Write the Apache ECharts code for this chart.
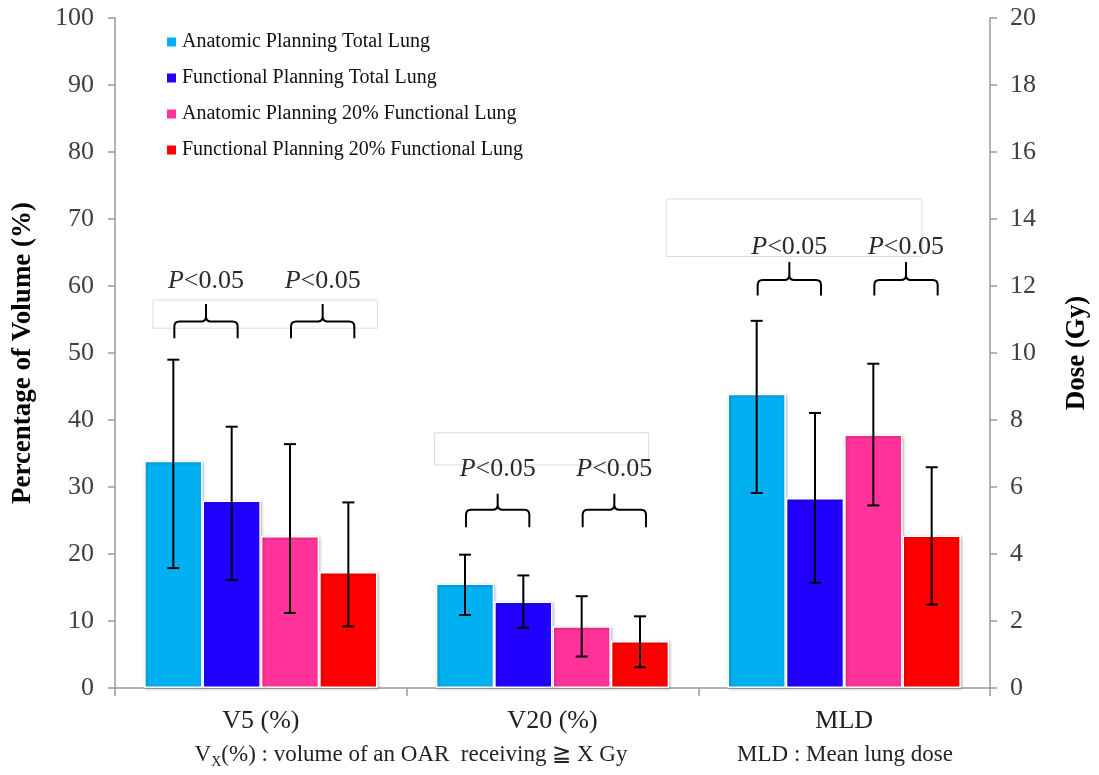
<!DOCTYPE html>
<html>
<head>
<meta charset="utf-8">
<script src="https://cdn.jsdelivr.net/npm/echarts@6.0.0/dist/echarts.min.js"></script>
<style>
html,body{margin:0;padding:0;background:#fff;}
#chart{width:1099px;height:775px;}
</style>
</head>
<body>
<div id="chart"></div>
<script>
// ---------------- DATA ----------------
const categories = ['V5 (%)', 'V20 (%)', 'MLD'];
const seriesNames = [
  'Anatomic Planning Total Lung',
  'Functional Planning Total Lung',
  'Anatomic Planning 20% Functional Lung',
  'Functional Planning 20% Functional Lung'
];
// V5 (% volume, left axis), one value per series
const v5Mean = [33.9, 28.0, 22.7, 17.3];
const v5Low  = [17.9, 16.1, 11.2, 9.2];
const v5High = [49.0, 39.0, 36.4, 27.7];
// V20 (% volume, left axis)
const v20Mean = [15.6, 12.9, 9.2, 7.0];
const v20Low  = [10.9, 9.0, 4.7, 3.1];
const v20High = [19.9, 16.8, 13.7, 10.7];
// MLD (Gy, right axis)
const mldMean = [8.78, 5.67, 7.57, 4.55];
const mldLow  = [5.82, 3.14, 5.45, 2.49];
const mldHigh = [10.96, 8.21, 9.68, 6.59];

// significance annotations (left-axis units)
const sigLabel = 'P<0.05';
const braceCat   = [0, 0, 1, 1, 2, 2];
const braceFirst = [0, 2, 0, 2, 0, 2];
const braceTip   = [57.3, 57.3, 29.0, 29.0, 63.6, 63.6];
const braceMid   = [54.7, 54.7, 26.6, 26.6, 60.9, 60.9];
const braceEnd   = [52.2, 52.2, 24.0, 24.0, 58.6, 58.6];
const sigTextY   = [60.7, 60.7, 32.6, 32.6, 65.8, 65.8];
// faint text-box outlines around annotations
const boxCat    = [0, 1, 2];
const boxTop    = [57.9, 38.1, 73.0];
const boxBottom = [53.7, 33.3, 64.4];
const boxLeftBand  = [-0.37, -0.404, -0.61];
const boxRightBand = [0.40, 0.329, 0.267];

// ---------------- STYLE ----------------
const colors = ['#00B0F0', '#2200FF', '#FF3399', '#FF0000'];
const FONT = '"Liberation Serif", "Times New Roman", serif';
const GAP = 0.2; // barCategoryGap

function barX(api, cat, s) {
  const band = api.size([1, 0])[0];
  const group = band * (1 - GAP);
  const bw = group / 4;
  const c = api.coord([cat, 0])[0];
  return { x: c - group / 2 + (s + 0.5) * bw, bw: bw, c: c, band: band };
}

function renderErr(params, api) {
  const cat = api.value(0), s = api.value(1);
  const p = barX(api, cat, s);
  const yl = api.coord([cat, api.value(2)])[1];
  const yh = api.coord([cat, api.value(3)])[1];
  const cap = 6;
  const st = { stroke: '#000', lineWidth: 2 };
  return {
    type: 'group',
    children: [
      { type: 'line', shape: { x1: p.x, y1: yl, x2: p.x, y2: yh }, style: st },
      { type: 'line', shape: { x1: p.x - cap, y1: yh, x2: p.x + cap, y2: yh }, style: st },
      { type: 'line', shape: { x1: p.x - cap, y1: yl, x2: p.x + cap, y2: yl }, style: st }
    ]
  };
}

function renderBrace(params, api) {
  const cat = api.value(0), s = api.value(1);
  const a = barX(api, cat, s);
  const b = barX(api, cat, s + 1);
  const x1 = a.x + 1, x2 = b.x + 6, xm = (x1 + x2) / 2;
  const yT = api.coord([cat, api.value(2)])[1];
  const yH = api.coord([cat, api.value(3)])[1];
  const yE = api.coord([cat, api.value(4)])[1];
  const yt = api.coord([cat, api.value(5)])[1];
  const r = 5;
  const d = 'M' + x1 + ',' + yE + ' L' + x1 + ',' + (yH + r) +
    ' Q' + x1 + ',' + yH + ' ' + (x1 + r) + ',' + yH +
    ' L' + (xm - r) + ',' + yH +
    ' Q' + xm + ',' + yH + ' ' + xm + ',' + (yH - r) +
    ' L' + xm + ',' + yT +
    ' M' + xm + ',' + (yH - r) +
    ' Q' + xm + ',' + yH + ' ' + (xm + r) + ',' + yH +
    ' L' + (x2 - r) + ',' + yH +
    ' Q' + x2 + ',' + yH + ' ' + x2 + ',' + (yH + r) +
    ' L' + x2 + ',' + yE;
  return {
    type: 'group',
    children: [
      { type: 'path', shape: { pathData: d }, style: { fill: null, stroke: '#000', lineWidth: 2 } },
      {
        type: 'text', x: xm, y: yt,
        style: {
          text: '{i|' + sigLabel.charAt(0) + '}{n|' + sigLabel.slice(1) + '}',
          align: 'center', verticalAlign: 'middle',
          rich: {
            i: { fontStyle: 'italic', fontSize: 26, fontFamily: FONT, fill: '#2a2a2a' },
            n: { fontSize: 26, fontFamily: FONT, fill: '#2a2a2a' }
          }
        }
      }
    ]
  };
}

function renderBox(params, api) {
  const cat = api.value(0);
  const band = api.size([1, 0])[0];
  const c = api.coord([cat, 0])[0];
  const xl = c + api.value(3) * band, xr = c + api.value(4) * band;
  const yt = api.coord([cat, api.value(1)])[1];
  const yb = api.coord([cat, api.value(2)])[1];
  return {
    type: 'rect',
    shape: { x: xl, y: yt, width: xr - xl, height: yb - yt },
    style: { fill: null, stroke: '#dcdcdc', lineWidth: 1 }
  };
}

// ---------------- BUILD ----------------
const barStyle = (i) => ({
  color: colors[i], borderColor: '#fff', borderWidth: 1.5,
  shadowColor: 'rgba(0,0,0,0.3)', shadowBlur: 3, shadowOffsetX: 1, shadowOffsetY: 1
});
const series = [];
for (let i = 0; i < 4; i++) {
  series.push({
    name: seriesNames[i], type: 'bar', xAxisIndex: 0, yAxisIndex: 0,
    data: [v5Mean[i], v20Mean[i], '-'],
    barGap: '0%', barCategoryGap: (GAP * 100) + '%',
    itemStyle: barStyle(i), emphasis: { disabled: true }, z: 2
  });
}
for (let i = 0; i < 4; i++) {
  series.push({
    name: seriesNames[i], type: 'bar', xAxisIndex: 1, yAxisIndex: 1,
    data: ['-', '-', mldMean[i]],
    barGap: '0%', barCategoryGap: (GAP * 100) + '%',
    itemStyle: barStyle(i), emphasis: { disabled: true }, z: 2
  });
}
const errPct = [], errGy = [];
for (let i = 0; i < 4; i++) {
  errPct.push([0, i, v5Low[i], v5High[i]]);
  errPct.push([1, i, v20Low[i], v20High[i]]);
  errGy.push([2, i, mldLow[i], mldHigh[i]]);
}
series.push({
  type: 'custom', xAxisIndex: 0, yAxisIndex: 0, renderItem: renderErr,
  data: errPct, encode: { x: 0, y: [2, 3] }, z: 5, silent: true
});
series.push({
  type: 'custom', xAxisIndex: 1, yAxisIndex: 1, renderItem: renderErr,
  data: errGy, encode: { x: 0, y: [2, 3] }, z: 5, silent: true
});
const braceData = braceCat.map((c, k) => [c, braceFirst[k], braceTip[k], braceMid[k], braceEnd[k], sigTextY[k]]);
series.push({
  type: 'custom', xAxisIndex: 0, yAxisIndex: 0, renderItem: renderBrace,
  data: braceData, encode: { x: 0, y: [2, 4] }, z: 6, silent: true
});
const boxData = boxCat.map((c, k) => [c, boxTop[k], boxBottom[k], boxLeftBand[k], boxRightBand[k]]);
series.push({
  type: 'custom', xAxisIndex: 0, yAxisIndex: 0, renderItem: renderBox,
  data: boxData, encode: { x: 0, y: [1, 2] }, z: 1, silent: true
});

const axisGray = '#9a9a9a';
const option = {
  animation: false,
  backgroundColor: '#fff',
  textStyle: { fontFamily: FONT },
  grid: { left: 115, right: 109, top: 18, bottom: 87, outerBoundsMode: 'none', containLabel: false },
  legend: {
    data: seriesNames,
    orient: 'vertical', left: 160, top: 27,
    icon: 'rect', itemWidth: 11, itemHeight: 11, itemGap: 16,
    textStyle: { fontFamily: FONT, fontSize: 20, color: '#111' },
    selectedMode: false
  },
  xAxis: [
    {
      type: 'category', data: categories,
      axisLine: { lineStyle: { color: axisGray, width: 1.5 } },
      axisTick: { show: true, length: 8, lineStyle: { color: axisGray, width: 1.5 } },
      axisLabel: { color: '#222', fontSize: 26, fontFamily: FONT, margin: 20 },
      splitLine: { show: false }
    },
    { type: 'category', data: categories, show: false }
  ],
  yAxis: [
    {
      type: 'value', min: 0, max: 100, interval: 10, position: 'left',
      name: 'Percentage of Volume (%)', nameLocation: 'middle', nameGap: 78, nameMoveOverlap: false,
      nameTextStyle: { fontFamily: FONT, fontWeight: 'bold', fontSize: 27, color: '#000' },
      axisLine: { show: true, lineStyle: { color: axisGray, width: 1.5 } },
      axisTick: { show: true, length: 7, lineStyle: { color: axisGray, width: 1.5 } },
      axisLabel: { color: '#404040', fontSize: 26, fontFamily: FONT, margin: 21 },
      splitLine: { show: false }
    },
    {
      type: 'value', min: 0, max: 20, interval: 2, position: 'right',
      name: 'Dose (Gy)', nameLocation: 'middle', nameGap: 74, nameMoveOverlap: false,
      nameTextStyle: { fontFamily: FONT, fontWeight: 'bold', fontSize: 27, color: '#000' },
      axisLine: { show: true, lineStyle: { color: axisGray, width: 1.5 } },
      axisTick: { show: true, length: 7, lineStyle: { color: axisGray, width: 1.5 } },
      axisLabel: { color: '#404040', fontSize: 26, fontFamily: FONT, margin: 20 },
      splitLine: { show: false }
    }
  ],
  graphic: [
    {
      type: 'text', x: 411, y: 755, silent: true,
      style: {
        text: '{a|V}{s|X}{a|(%) : volume of an OAR  receiving ≧ X Gy}',
        align: 'center', verticalAlign: 'middle',
        rich: {
          a: { fontFamily: FONT, fontSize: 23, fill: '#222', verticalAlign: 'bottom' },
          s: { fontFamily: FONT, fontSize: 14, fill: '#222', verticalAlign: 'bottom', padding: [0, 0, -3, 0] }
        }
      }
    },
    {
      type: 'text', x: 845, y: 755, silent: true,
      style: {
        text: 'MLD : Mean lung dose', align: 'center', verticalAlign: 'middle',
        fontFamily: FONT, fontSize: 23, fill: '#222'
      }
    }
  ],
  series: series
};

const chart = echarts.init(document.getElementById('chart'), null, { renderer: 'canvas' });
chart.setOption(option);
</script>
</body>
</html>
